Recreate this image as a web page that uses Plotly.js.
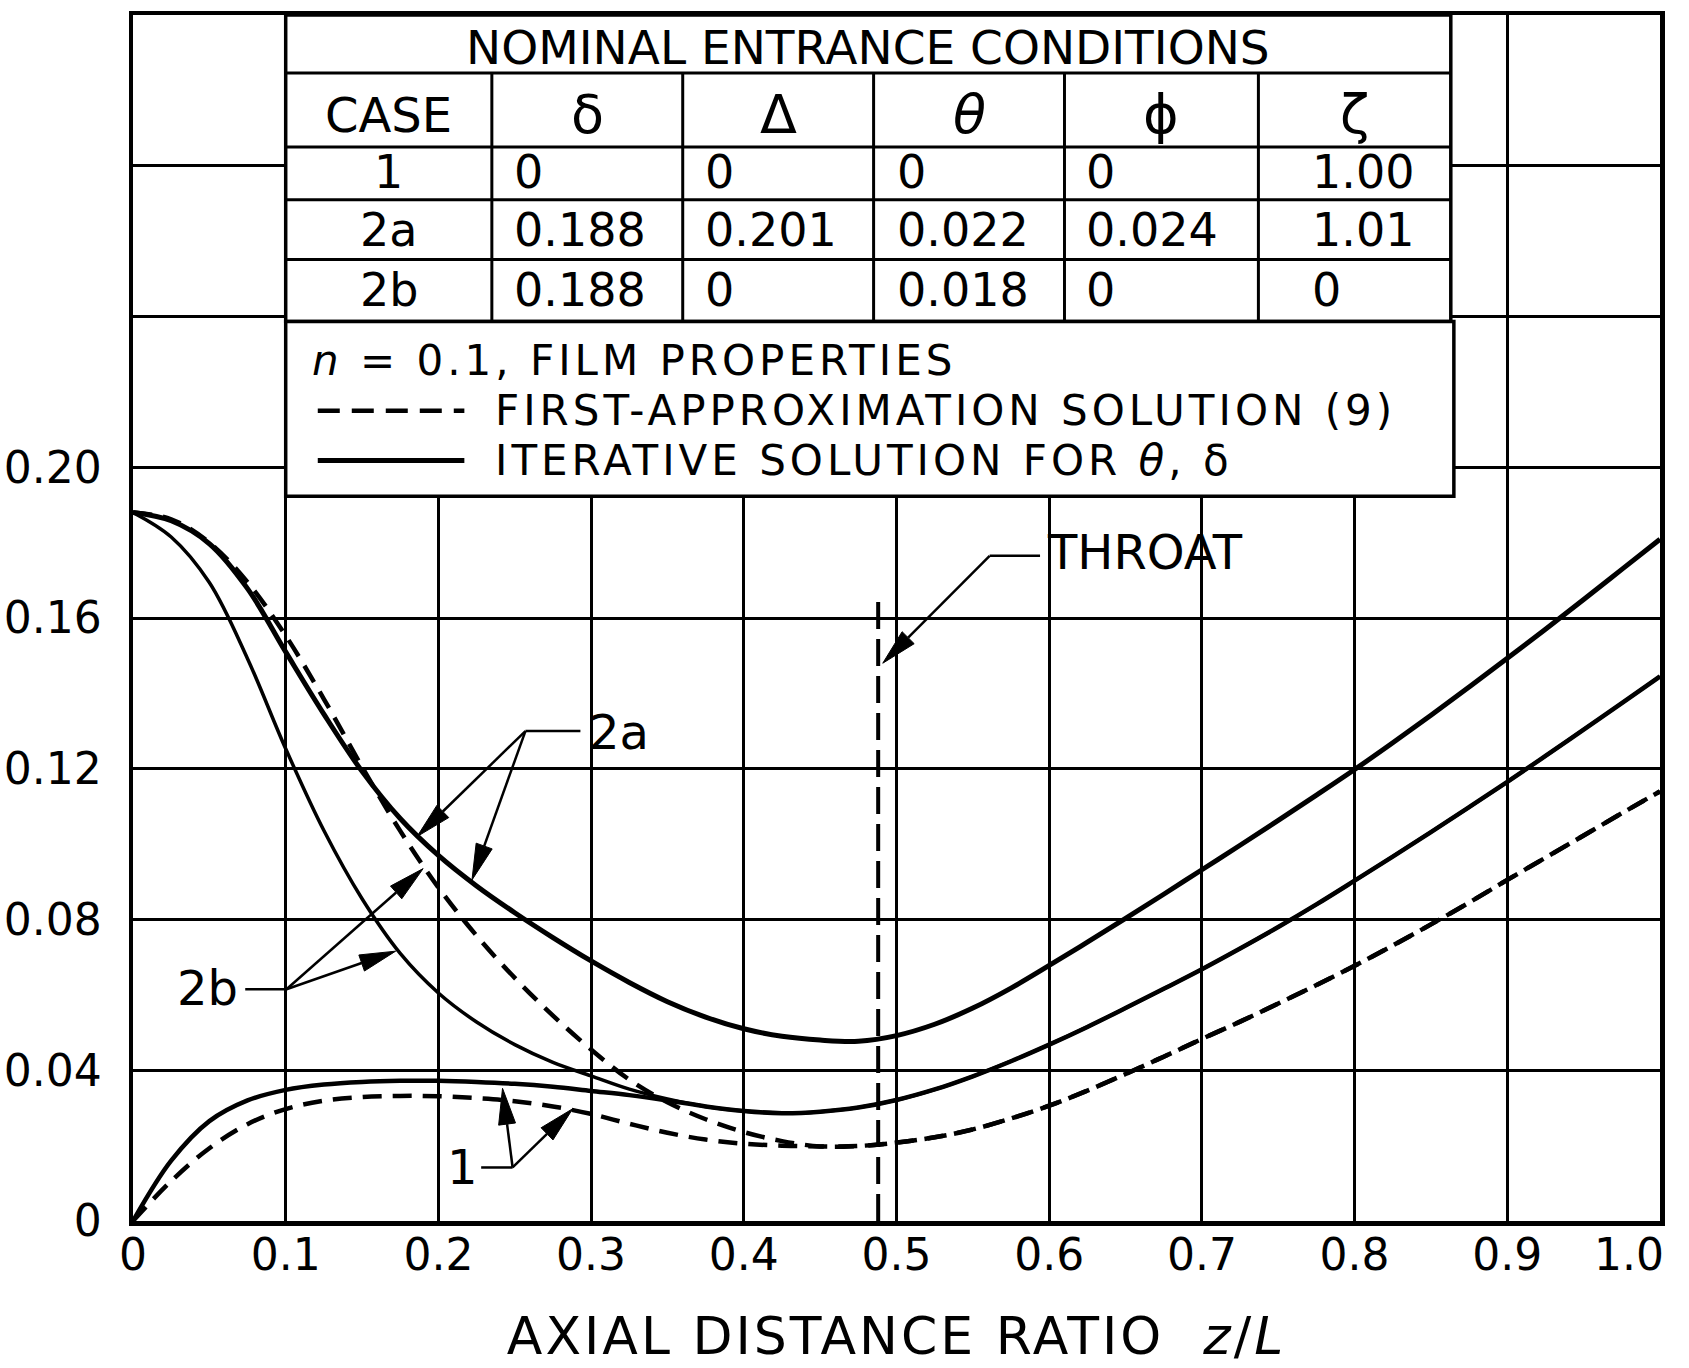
<!DOCTYPE html>
<html>
<head>
<meta charset="utf-8">
<script src="https://cdn.plot.ly/plotly-3.0.1.min.js"></script>
<style>
  html, body { margin: 0; padding: 0; background: #fff; }
  #chart { width: 1689px; height: 1368px; }
</style>
</head>
<body>
<div id="chart"></div>
<script>
// Axial distance ratio z/L at which every curve is sampled
const zL = [0, 0.025, 0.05, 0.075, 0.1, 0.125, 0.15, 0.175, 0.2, 0.225, 0.25, 0.275, 0.3, 0.325,
            0.35, 0.375, 0.4, 0.425, 0.45, 0.475, 0.5, 0.525, 0.55, 0.575, 0.6, 0.625, 0.65, 0.675,
            0.7, 0.725, 0.75, 0.775, 0.8, 0.825, 0.85, 0.875, 0.9, 0.925, 0.95, 0.975, 1.0];

// Iterative solution for theta, delta (solid curves)
const iterCase2a = [0.188, 0.1858, 0.1797, 0.1678, 0.1510, 0.1345, 0.1193, 0.1068, 0.0970, 0.0889,
                    0.0818, 0.0752, 0.0690, 0.0633, 0.0582, 0.0541, 0.0510, 0.0490, 0.0480, 0.0477,
                    0.0492, 0.0522, 0.0565, 0.0618, 0.0678, 0.0740, 0.0803, 0.0867, 0.0932, 0.0997,
                    0.1063, 0.1130, 0.1198, 0.1269, 0.1342, 0.1417, 0.1493, 0.1570, 0.1649, 0.1729,
                    0.1809];
const iterCase2b = [0.188, 0.1815, 0.1694, 0.1492, 0.1253, 0.1036, 0.0855, 0.0710, 0.0605, 0.0528,
                    0.0468, 0.0421, 0.0385, 0.0350, 0.0324, 0.0304, 0.0292, 0.0286, 0.0290, 0.0301,
                    0.0321, 0.0349, 0.0384, 0.0424, 0.0468, 0.0515, 0.0565, 0.0616, 0.0668, 0.0723,
                    0.0780, 0.0840, 0.0903, 0.0967, 0.1032, 0.1098, 0.1165, 0.1234, 0.1304, 0.1374,
                    0.1445];
const iterCase1  = [0, 0.0160, 0.0265, 0.0320, 0.0348, 0.0362, 0.0369, 0.0372, 0.0372, 0.0369,
                    0.0364, 0.0356, 0.0345, 0.0334, 0.0320, 0.0304, 0.0292, 0.0286, 0.0290, 0.0301,
                    0.0321, 0.0349, 0.0384, 0.0424, 0.0468, 0.0515, 0.0565, 0.0616, 0.0668, 0.0723,
                    0.0780, 0.0840, 0.0903, 0.0967, 0.1032, 0.1098, 0.1165, 0.1234, 0.1304, 0.1374,
                    0.1445];

// First-approximation solution (9) (dashed curves)
const firstCase2a = [0.188, 0.1862, 0.1800, 0.1695, 0.1553, 0.1385, 0.1205, 0.1035, 0.0885, 0.0757,
                     0.0645, 0.0545, 0.0455, 0.0375, 0.0315, 0.0270, 0.0236, 0.0212, 0.0198, 0.0199,
                     0.0208, 0.0222, 0.0243, 0.0272, 0.0306, 0.0346, 0.0390, 0.0436, 0.0483, 0.0529,
                     0.0577, 0.0626, 0.0677, 0.0731, 0.0787, 0.0845, 0.0905, 0.0964, 0.1023, 0.1082,
                     0.1140];
const firstCase1  = [0, 0.0106, 0.0193, 0.0257, 0.0297, 0.0319, 0.0329, 0.0332, 0.0331, 0.0326,
                     0.0318, 0.0304, 0.0284, 0.0258, 0.0234, 0.0216, 0.0205, 0.0200, 0.0198, 0.0199,
                     0.0208, 0.0222, 0.0243, 0.0272, 0.0306, 0.0346, 0.0390, 0.0436, 0.0483, 0.0529,
                     0.0577, 0.0626, 0.0677, 0.0731, 0.0787, 0.0845, 0.0905, 0.0964, 0.1023, 0.1082,
                     0.1140];

// Throat station
const throatZ = 0.488;
const throatTop = 0.1665;

// Axis ticks
const xTickVals = [0, 0.1, 0.2, 0.3, 0.4, 0.5, 0.6, 0.7, 0.8, 0.9, 1.0];
const xTickText = ['0', '0.1', '0.2', '0.3', '0.4', '0.5', '0.6', '0.7', '0.8', '0.9', '1.0'];
const yTickVals = [0, 0.04, 0.08, 0.12, 0.16, 0.20, 0.24, 0.28, 0.32];
const yTickText = ['0', '0.04', '0.08', '0.12', '0.16', '0.20', '', '', ''];

// Nominal entrance conditions table
const tableTitle = 'NOMINAL ENTRANCE CONDITIONS';
const tableHeaders = ['CASE', 'δ', 'Δ', '<i>θ</i>', 'ϕ', 'ζ'];
const caseNames = ['1', '2a', '2b'];
const deltaVals = ['0', '0.188', '0.188'];
const bigDeltaVals = ['0', '0.201', '0'];
const thetaVals = ['0', '0.022', '0.018'];
const phiVals = ['0', '0.024', '0'];
const zetaVals = ['1.00', '1.01', '0'];

const legendNote = '<i>n</i> = 0.1, FILM PROPERTIES';
const legendDashed = 'FIRST-APPROXIMATION SOLUTION (9)';
const legendSolid = 'ITERATIVE SOLUTION FOR <i>θ</i>, δ';

const FONT = 'DejaVu Sans, Liberation Sans, sans-serif';
const INK = '#000';

// plot-area geometry, used to build arrowheads of a fixed pixel size
const W = 1689, H = 1368;
const M = { l: 133, r: 29, t: 15, b: 147 };
const X_RANGE = [0, 1], Y_RANGE = [0, 0.32];
const XS = (W - M.l - M.r) / (X_RANGE[1] - X_RANGE[0]);
const YS = (H - M.t - M.b) / (Y_RANGE[1] - Y_RANGE[0]);

// ---------- traces ----------
function curve(y, dashed, width) {
  return {
    x: zL, y: y, type: 'scatter', mode: 'lines', hoverinfo: 'skip',
    line: { color: INK, width: width, shape: 'spline', smoothing: 1, dash: dashed ? '19px,11px' : 'solid' }
  };
}
const traces = [
  curve(iterCase2a, false, 5),
  curve(iterCase2b, false, 3.5),
  curve(iterCase1, false, 4.5),
  curve(firstCase2a, true, 4.5),
  curve(firstCase1, true, 4.5),
  {
    x: [throatZ, throatZ], y: [0, throatTop], type: 'scatter', mode: 'lines', hoverinfo: 'skip',
    line: { color: INK, width: 4, dash: '27px,10px' }
  }
];

// ---------- table geometry (data coordinates) ----------
const tLeft = 0.1, tRight = 0.863, lRight = 0.865;
const rowEdges = [0.32, 0.3046, 0.2850, 0.2710, 0.2551, 0.2387];
const colEdges = [0.1, 0.235, 0.36, 0.485, 0.61, 0.737, 0.863];
const legendBottom = 0.1923;

const shapes = [];
function line(x0, y0, x1, y1, w, dash) {
  shapes.push({ type: 'line', xref: 'x', yref: 'y', x0, y0, x1, y1, layer: 'above',
                line: { color: INK, width: w, dash: dash || 'solid' } });
}
// white boxes hiding the grid
shapes.push({ type: 'rect', xref: 'x', yref: 'y', x0: tLeft, x1: tRight, y0: rowEdges[5], y1: rowEdges[0],
              fillcolor: '#fff', layer: 'above', line: { color: INK, width: 3.5 } });
shapes.push({ type: 'rect', xref: 'x', yref: 'y', x0: tLeft, x1: lRight, y0: legendBottom, y1: rowEdges[5],
              fillcolor: '#fff', layer: 'above', line: { color: INK, width: 3.5 } });
for (let i = 1; i < rowEdges.length - 1; i++) line(tLeft, rowEdges[i], tRight, rowEdges[i], 3);
for (let j = 1; j < colEdges.length - 1; j++) line(colEdges[j], rowEdges[5], colEdges[j], rowEdges[1], 3);

// legend samples
line(0.121, 0.2150, 0.217, 0.2150, 4.5, '22px,12px');
line(0.121, 0.2018, 0.217, 0.2018, 5);

// leader lines for curve labels
line(0.257, 0.1300, 0.293, 0.1300, 2.5);
line(0.0735, 0.0615, 0.1005, 0.0615, 2.5);
line(0.228, 0.0142, 0.2486, 0.0142, 2.5);
line(0.561, 0.1765, 0.594, 0.1765, 2.5);

// arrow: thin shaft plus a long, narrow filled head of fixed pixel size
function arrow(fromX, fromY, toX, toY) {
  const dx = (toX - fromX) * XS, dy = (toY - fromY) * YS;
  const len = Math.hypot(dx, dy);
  const ux = dx / len, uy = dy / len;
  const headLen = 36, halfW = 8.5;
  const bx = toX * XS - ux * headLen, by = toY * YS - uy * headLen;
  const p1x = (bx - uy * halfW) / XS, p1y = (by + ux * halfW) / YS;
  const p2x = (bx + uy * halfW) / XS, p2y = (by - ux * halfW) / YS;
  line(fromX, fromY, bx / XS, by / YS, 2.5);
  shapes.push({ type: 'path', xref: 'x', yref: 'y', layer: 'above',
                path: `M${toX},${toY} L${p1x},${p1y} L${p2x},${p2y} Z`,
                fillcolor: INK, line: { color: INK, width: 1 } });
}
arrow(0.257, 0.130, 0.186, 0.102);
arrow(0.257, 0.130, 0.222, 0.0905);
arrow(0.1005, 0.0615, 0.190, 0.0935);
arrow(0.1005, 0.0615, 0.172, 0.0716);
arrow(0.2486, 0.0142, 0.242, 0.0352);
arrow(0.2486, 0.0142, 0.288, 0.0298);
arrow(0.561, 0.1765, 0.491, 0.148);

// ---------- annotations ----------
const annotations = [];
function txt(text, x, y, size, anchor) {
  annotations.push({ text, x, y, xref: 'x', yref: 'y', showarrow: false,
                     xanchor: anchor || 'center', yanchor: 'middle', align: anchor || 'center',
                     font: { family: FONT, size: size, color: INK } });
}

txt(tableTitle, (tLeft + tRight) / 2, 0.3115, 47);
const headerY = 0.2935;
const headerSizes = [48, 54, 54, 54, 54, 54];
tableHeaders.forEach((h, j) => txt(h, (colEdges[j] + colEdges[j + 1]) / 2, headerY, headerSizes[j]));
const rowY = [0.2783, 0.2630, 0.2470];
const valueCols = [deltaVals, bigDeltaVals, thetaVals, phiVals, zetaVals];
const valueX = [0.248, 0.373, 0.499, 0.623, 0.771];
caseNames.forEach((c, i) => {
  txt(c, (colEdges[0] + colEdges[1]) / 2, rowY[i], 46);
  valueCols.forEach((col, j) => txt(col[i], valueX[j], rowY[i], 46, 'left'));
});

txt(legendNote, 0.116, 0.2282, 42, 'left');
txt(legendDashed, 0.236, 0.2150, 42, 'left');
txt(legendSolid, 0.236, 0.2018, 42, 'left');

txt('2a', 0.318, 0.1298, 48);
txt('2b', 0.0486, 0.0617, 48);
txt('1', 0.2158, 0.0142, 48);
txt('THROAT', 0.597, 0.1775, 48, 'left');

// last x tick label sits inside the right edge
annotations.push({ text: xTickText[xTickText.length - 1], x: 1.0, y: 0, xref: 'x', yref: 'y',
                   showarrow: false, xanchor: 'right', yanchor: 'middle', xshift: 6, yshift: -33,
                   font: { family: FONT, size: 44, color: INK } });
const xTickShown = xTickText.slice(0, -1).concat(['']);

// ---------- layout ----------
const axisCommon = {
  showgrid: true, gridcolor: INK, gridwidth: 3,
  showline: true, linecolor: INK, linewidth: 4.5, mirror: true,
  zeroline: false, ticks: '', fixedrange: true, automargin: false,
  tickfont: { family: FONT, size: 44, color: INK }
};

const layout = {
  width: W, height: H,
  margin: M,
  paper_bgcolor: '#fff', plot_bgcolor: '#fff',
  showlegend: false,
  font: { family: FONT, color: INK },
  xaxis: Object.assign({}, axisCommon, {
    range: X_RANGE, tickmode: 'array', tickvals: xTickVals, ticktext: xTickShown,
    ticklabelstandoff: -8,
    title: { text: 'AXIAL DISTANCE RATIO  <i>z</i>/<i>L</i>', font: { family: FONT, size: 52, color: INK }, standoff: 40 }
  }),
  yaxis: Object.assign({}, axisCommon, {
    range: Y_RANGE, tickmode: 'array', tickvals: yTickVals, ticktext: yTickText,
    ticklabelstandoff: 18
  }),
  shapes: shapes,
  annotations: annotations
};

Plotly.newPlot('chart', traces, layout, { staticPlot: true, displayModeBar: false }).then(gd => {
  // hand-lettered look: open up the spacing of the legend lines and the axis title
  const spaced = [legendNote, legendDashed, legendSolid].map(s => s.replace(/<[^>]+>/g, ''));
  gd.querySelectorAll('.annotation-text').forEach(t => {
    if (spaced.includes(t.textContent)) t.style.letterSpacing = '4px';
  });
  gd.querySelectorAll('.xtitle').forEach(t => { t.style.letterSpacing = '3px'; });
});
</script>
</body>
</html>
